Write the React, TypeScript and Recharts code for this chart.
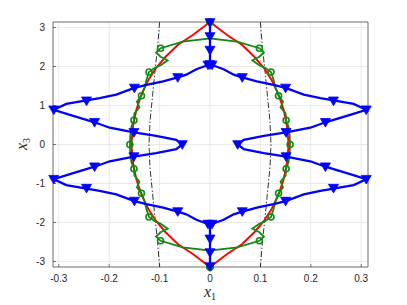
import { ComposedChart, Line, Scatter, XAxis, YAxis, CartesianGrid } from "recharts";

type P = [number, number];

const X_TICKS = [-0.3, -0.2, -0.1, 0, 0.1, 0.2, 0.3];
const Y_TICKS = [-3, -2, -1, 0, 1, 2, 3];
const X_DOMAIN = [-0.3115, 0.3135];
const Y_DOMAIN = [-3.1416, 3.1416];

// upper-left quarter of each curve, read from the top (x3 = pi) down to x3 = 0
const RED_Q: P[] = [
  [0, 3.1416], [-0.034, 2.81], [-0.064, 2.55], [-0.088, 2.25], [-0.107, 1.96],
  [-0.122, 1.66], [-0.135, 1.32], [-0.146, 0.9], [-0.153, 0.45], [-0.156, 0],
];
const DASH_Q: P[] = [
  [-0.1, 3.1416], [-0.104, 2.5], [-0.109, 1.9], [-0.114, 1.25], [-0.119, 0.6], [-0.121, 0],
];
const GREEN_Q: P[] = [
  [0, 3.1416], [0, 2.72], [-0.054, 2.64], [-0.098, 2.47], [-0.107, 2.36], [-0.098, 2.25],
  [-0.084, 2.16], [-0.097, 2.04], [-0.11, 1.96], [-0.121, 1.86], [-0.126, 1.66],
  [-0.13, 1.45], [-0.136, 1.25], [-0.145, 1.1], [-0.14, 0.95], [-0.15, 0.8],
  [-0.151, 0.62], [-0.156, 0.45], [-0.158, 0.25], [-0.159, 0],
];
const GREEN_MARK_Q: P[] = [
  [0, 3.1416], [-0.098, 2.47], [-0.121, 1.86], [-0.136, 1.25], [-0.151, 0.62], [-0.159, 0],
];
const BLUE_STEM_Q: P[] = [[0, 3.1416], [0, 2.05]];
const BLUE_STEM_MARK_Q: P[] = [[0, 3.13], [0, 2.77], [0, 2.42], [0, 2.05]];
const BLUE_Q: P[] = [
  [0, 2.05], [-0.012, 2.0], [-0.027, 1.93], [-0.047, 1.79], [-0.064, 1.72], [-0.093, 1.62],
  [-0.126, 1.53], [-0.15, 1.45], [-0.186, 1.28], [-0.219, 1.19], [-0.245, 1.13],
  [-0.285, 1.04], [-0.31, 0.89], [-0.278, 0.76], [-0.229, 0.57], [-0.199, 0.43],
  [-0.151, 0.31], [-0.107, 0.22], [-0.067, 0.12], [-0.055, 0],
];
const BLUE_MARK_Q: P[] = [
  [-0.004, 2.04], [-0.064, 1.72], [-0.15, 1.45], [-0.245, 1.12], [-0.31, 0.89],
  [-0.229, 0.57], [-0.151, 0.31], [-0.055, 0],
];

const pts = (a: P[]) => a.map(([x, y]) => ({ x, y }));
const flipY = (a: P[]) => a.map(([x, y]) => [x, -y] as P);
const flipX = (a: P[]) => a.map(([x, y]) => [-x, y] as P);
// the plot is symmetric in x1 and x3
const half = (q: P[]) => [...q, ...flipY(q).reverse().slice(1)];
const halfMarks = (q: P[]) => [...q, ...flipY(q).filter(([, y]) => y !== 0)];

const redLeft = half(RED_Q);
const red = pts([...redLeft, ...flipX(redLeft).reverse().slice(1)]);
const dashL = half(DASH_Q);
const greenL = half(GREEN_Q);
const blueL = half(BLUE_Q);
const greenMarks = halfMarks(GREEN_MARK_Q);
const blueMarks = halfMarks(BLUE_MARK_Q);
const stemMarks = halfMarks(BLUE_STEM_MARK_Q);

const AXIS = "#262626";
const FONT = "Liberation Sans, Arial, sans-serif";
const TL = 3;

const BottomTick = (p: any) => (
  <g>
    <line x1={p.x} x2={p.x} y1={p.y} y2={p.y - TL} stroke={AXIS} strokeWidth={0.6} />
    <text x={p.x} y={p.y + 15} textAnchor="middle" fontSize={10} fill={AXIS} fontFamily={FONT}>
      {String(p.payload.value)}
    </text>
  </g>
);
const TopTick = (p: any) => (
  <line x1={p.x} x2={p.x} y1={p.y} y2={p.y + TL} stroke={AXIS} strokeWidth={0.6} />
);
const LeftTick = (p: any) => (
  <g>
    <line x1={p.x} x2={p.x + TL} y1={p.y} y2={p.y} stroke={AXIS} strokeWidth={0.6} />
    <text x={p.x - 8} y={p.y + 3.5} textAnchor="end" fontSize={10} fill={AXIS} fontFamily={FONT}>
      {String(p.payload.value)}
    </text>
  </g>
);
const RightTick = (p: any) => (
  <line x1={p.x} x2={p.x - TL} y1={p.y} y2={p.y} stroke={AXIS} strokeWidth={0.6} />
);

const Tri = (p: any) => (
  <polygon
    points={`${p.cx - 5},${p.cy - 3.8} ${p.cx + 5},${p.cy - 3.8} ${p.cx},${p.cy + 4.8}`}
    fill="#0000ff"
    stroke="#0000ff"
    strokeWidth={0.8}
  />
);
const Ring = (p: any) => (
  <circle cx={p.cx} cy={p.cy} r={3} fill="none" stroke="#108a10" strokeWidth={1.6} />
);

const axisLine = { stroke: "#555555", strokeWidth: 0.8 };

export default function App() {
  return (
    <div style={{ position: "absolute", left: 0, top: 0, width: 407, height: 305, background: "#fff" }}>
      <ComposedChart width={407} height={305} margin={{ top: 0, right: 0, bottom: 0, left: 0 }}>
        <CartesianGrid stroke="#e4e4e4" strokeWidth={0.8} />
        <XAxis
          type="number" dataKey="x" domain={X_DOMAIN} ticks={X_TICKS} interval={0}
          height={38} tickSize={0} tickMargin={0} tickLine={false} axisLine={axisLine} tick={BottomTick}
        />
        <XAxis
          xAxisId="top" orientation="top" type="number" domain={X_DOMAIN} ticks={X_TICKS} interval={0}
          height={22} tickSize={0} tickMargin={0} tickLine={false} axisLine={axisLine} tick={TopTick}
        />
        <YAxis
          type="number" dataKey="y" domain={Y_DOMAIN} ticks={Y_TICKS} interval={0}
          width={53} tickSize={0} tickMargin={0} tickLine={false} axisLine={axisLine} tick={LeftTick}
        />
        <YAxis
          yAxisId="right" orientation="right" type="number" domain={Y_DOMAIN} ticks={Y_TICKS} interval={0}
          width={39} tickSize={0} tickMargin={0} tickLine={false} axisLine={axisLine} tick={RightTick}
        />

        <Line data={pts(dashL)} dataKey="y" stroke="#000" strokeWidth={0.8} strokeDasharray="6 2 1.5 2" dot={false} activeDot={false} isAnimationActive={false} />
        <Line data={pts(flipX(dashL))} dataKey="y" stroke="#000" strokeWidth={0.8} strokeDasharray="6 2 1.5 2" dot={false} activeDot={false} isAnimationActive={false} />
        <Line data={red} dataKey="y" stroke="#ff0000" strokeWidth={1.9} dot={false} activeDot={false} isAnimationActive={false} />
        <Line data={pts(greenL)} dataKey="y" stroke="#108a10" strokeWidth={1.8} dot={false} activeDot={false} isAnimationActive={false} />
        <Line data={pts(flipX(greenL))} dataKey="y" stroke="#108a10" strokeWidth={1.8} dot={false} activeDot={false} isAnimationActive={false} />
        <Scatter data={pts([...greenMarks, ...flipX(greenMarks)])} dataKey="y" shape={Ring} isAnimationActive={false} />
        <Line data={pts(BLUE_STEM_Q)} dataKey="y" stroke="#0000ff" strokeWidth={2.3} dot={false} activeDot={false} isAnimationActive={false} />
        <Line data={pts(flipY(BLUE_STEM_Q))} dataKey="y" stroke="#0000ff" strokeWidth={2.3} dot={false} activeDot={false} isAnimationActive={false} />
        <Line data={pts(blueL)} dataKey="y" stroke="#0000ff" strokeWidth={2.3} dot={false} activeDot={false} isAnimationActive={false} />
        <Line data={pts(flipX(blueL))} dataKey="y" stroke="#0000ff" strokeWidth={2.3} dot={false} activeDot={false} isAnimationActive={false} />
        <Scatter data={pts([...blueMarks, ...flipX(blueMarks), ...stemMarks])} dataKey="y" shape={Tri} isAnimationActive={false} />
      </ComposedChart>
      <svg width={407} height={305} style={{ position: "absolute", left: 0, top: 0, pointerEvents: "none" }}>
        <text x={210} y={297} textAnchor="middle" fontFamily="Liberation Serif, serif" fontSize={16} fill={AXIS}>
          <tspan fontStyle="italic">x</tspan>
          <tspan fontSize={10} dy={3}>1</tspan>
        </text>
        <text transform="translate(27,144) rotate(-90)" textAnchor="middle" fontFamily="Liberation Serif, serif" fontSize={16} fill={AXIS}>
          <tspan fontStyle="italic">x</tspan>
          <tspan fontSize={10} dy={3}>3</tspan>
        </text>
      </svg>
    </div>
  );
}
